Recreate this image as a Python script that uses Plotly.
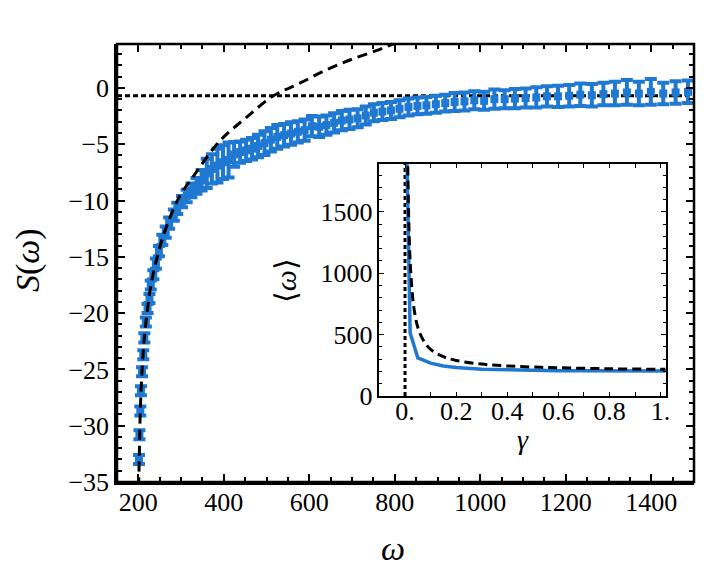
import plotly.graph_objects as go

# main panel: measured S(omega) with error bars
omega = [201.5, 202.5, 204.5, 206, 208.5, 211.5, 214, 217.5, 221.5, 226,
         229, 235, 241, 248, 256, 264, 272, 283, 291, 302,
         313, 324, 336, 348, 360, 372, 385, 398, 411, 424,
         438, 452, 466, 480, 495, 510, 525, 541, 557, 573,
         589, 606, 623, 640, 658, 676, 694, 713, 732, 751,
         771, 791, 811, 832, 853, 874, 896, 918, 940, 963,
         986, 1009, 1033, 1057, 1081, 1106, 1131, 1156, 1182, 1208,
         1234, 1261, 1288, 1315, 1343, 1371, 1399, 1428, 1457, 1486]
s_omega = [-33.0, -30.8, -28.7, -26.9, -25.2, -23.7, -22.2, -20.8, -19.6, -18.7,
           -17.5, -16.6, -15.6, -14.5, -13.5, -12.8, -12.0, -11.3, -10.7, -10.1,
           -9.6, -9.1, -8.7, -8.2, -7.6, -7.2, -6.9, -6.6, -6.4, -5.9,
           -5.7, -5.55, -5.4, -5.15, -4.9, -4.6, -4.35, -4.2, -4.05, -3.9,
           -3.75, -3.4, -3.45, -3.3, -3.1, -2.9, -2.8, -2.7, -2.45, -2.2,
           -2.1, -2.0, -1.85, -1.7, -1.6, -1.55, -1.45, -1.35, -1.25, -1.2,
           -1.1, -1.15, -1.0, -1.0, -0.95, -0.9, -0.85, -0.75, -0.75, -0.7,
           -0.6, -0.65, -0.55, -0.5, -0.4, -0.5, -0.35, -0.5, -0.4, -0.35]
s_err = [0.4, 0.4, 0.4, 0.4, 0.4, 0.4, 0.4, 0.4, 0.4, 0.4,
         0.4, 0.4, 0.45, 0.45, 0.45, 0.5, 0.5, 0.5, 0.5, 0.5,
         0.55, 0.6, 0.7, 0.9, 1.3, 1.3, 1.5, 1.5, 1.55, 1.1,
         0.95, 0.95, 0.95, 1.0, 1.05, 1.05, 1.05, 1.0, 1.0, 0.95,
         0.95, 0.9, 0.9, 0.85, 0.85, 0.85, 0.85, 0.8, 0.8, 0.75,
         0.75, 0.75, 0.75, 0.75, 0.75, 0.75, 0.75, 0.75, 0.8, 0.8,
         0.8, 0.8, 0.85, 0.8, 0.85, 0.85, 0.9, 0.9, 0.95, 0.95,
         1.0, 1.0, 1.0, 1.05, 1.1, 1.05, 1.15, 0.95, 1.0, 1.0]

# main panel: theory curve (dashed) and plateau level (dotted)
omega_theory = [200.5, 202, 204.5, 208.5, 214, 221.5, 229, 241, 256, 272,
                290, 305, 326, 350, 375, 404, 450, 516, 574, 640, 700, 760, 800, 830]
s_theory = [-35.5, -33.0, -28.7, -25.2, -22.2, -19.6, -17.6, -15.5, -13.4, -11.7,
            -10.1, -9.1, -8.0, -6.7, -5.4, -4.2, -2.7, -0.7, 0.35, 1.6, 2.55, 3.35, 3.95, 4.3]
s_plateau = -0.7

# inset: mean omega vs gamma
gamma_sim = [0.006, 0.02, 0.05, 0.1, 0.15, 0.2, 0.3, 0.4, 0.5, 0.6, 0.7, 0.8, 0.9, 1.0, 1.02]
mean_omega_sim = [2100, 515, 310, 268, 245, 232, 218, 212, 208, 206, 205, 204, 203, 203, 203]
gamma_theory = [0.0095, 0.012, 0.015, 0.02, 0.03, 0.04, 0.05, 0.07, 0.1, 0.15,
                0.2, 0.3, 0.4, 0.5, 0.6, 0.8, 1.0, 1.02]
mean_omega_theory = [2100, 1700, 1400, 1100, 800, 650, 560, 460, 380, 320,
                     290, 260, 245, 236, 230, 222, 218, 218]
gamma_zero = 0.0

BLUE = "#1f78d1"
FONT = "Liberation Serif, DejaVu Serif, Times New Roman, serif"

fig = go.Figure()

fig.add_trace(go.Scatter(
    x=[150, 1500], y=[s_plateau, s_plateau], mode="lines",
    line=dict(color="black", width=3, dash="5px,3px"),
    xaxis="x", yaxis="y", showlegend=False))

fig.add_trace(go.Scatter(
    x=omega, y=s_omega, mode="markers",
    marker=dict(color=BLUE, size=8, symbol="square"),
    error_y=dict(type="data", array=s_err, color=BLUE, thickness=4, width=6),
    xaxis="x", yaxis="y", showlegend=False))

fig.add_trace(go.Scatter(
    x=omega_theory, y=s_theory, mode="lines", line_shape="spline",
    line=dict(color="black", width=3, dash="10px,6px"),
    xaxis="x", yaxis="y", showlegend=False))

# inset traces
fig.add_trace(go.Scatter(
    x=[gamma_zero, gamma_zero], y=[0, 1900], mode="lines",
    line=dict(color="black", width=3, dash="4px,3px"),
    xaxis="x2", yaxis="y2", showlegend=False))

fig.add_trace(go.Scatter(
    x=gamma_sim, y=mean_omega_sim, mode="lines",
    line=dict(color=BLUE, width=3.5),
    xaxis="x2", yaxis="y2", showlegend=False))

fig.add_trace(go.Scatter(
    x=gamma_theory, y=mean_omega_theory, mode="lines", line_shape="spline",
    line=dict(color="black", width=3, dash="9px,5px"),
    xaxis="x2", yaxis="y2", showlegend=False))

tick_font = dict(family=FONT, size=26, color="black")
axis_common = dict(showgrid=False, zeroline=False, showline=True, linecolor="black",
                   ticks="inside", tickcolor="black", tickfont=tick_font)

main_x = dict(range=[150, 1500], tickvals=[200, 400, 600, 800, 1000, 1200, 1400],
              ticklen=8, tickwidth=2,
              minor=dict(dtick=50, tick0=0, ticklen=5, tickwidth=2, ticks="inside",
                         tickcolor="black"))
main_y = dict(range=[-35, 3.9], tickvals=[-35, -30, -25, -20, -15, -10, -5, 0],
              ticklen=8, tickwidth=2,
              minor=dict(dtick=1, tick0=0, ticklen=5, tickwidth=2, ticks="inside",
                         tickcolor="black"))

# the page body adds an 8px offset, so the figure is 8px smaller
fig.update_layout(
    width=698, height=563,
    margin=dict(l=109, r=7, t=36, b=89),
    font=dict(family=FONT, color="black"),
    plot_bgcolor="white", paper_bgcolor="white",
    xaxis=dict(axis_common, **main_x, domain=[0, 1], linewidth=2.5,
               ticklabelstandoff=-5),
    yaxis=dict(axis_common, **main_y, domain=[0, 1], linewidth=2.5),
    xaxis3=dict(axis_common, **main_x, overlaying="x", side="top", matches="x",
                showticklabels=False, showline=False),
    yaxis3=dict(axis_common, **main_y, overlaying="y", side="right", matches="y",
                showticklabels=False, showline=False),
    xaxis2=dict(axis_common, domain=[0.4549, 0.9509], range=[-0.1, 1.02],
                anchor="y2", linewidth=1.5, mirror="ticks",
                tickvals=[0, 0.2, 0.4, 0.6, 0.8, 1.0],
                ticktext=["0.", "0.2", "0.4", "0.6", "0.8", "1."],
                ticklen=4, tickwidth=1, ticklabelstandoff=-9,
                minor=dict(dtick=0.1, tick0=0, ticklen=4, tickwidth=1, ticks="inside",
                           tickcolor="black")),
    yaxis2=dict(axis_common, domain=[0.1963, 0.726], range=[0, 1890],
                anchor="x2", linewidth=1.5, mirror="ticks",
                tickvals=[0, 500, 1000, 1500],
                ticklen=5, tickwidth=1,
                minor=dict(dtick=100, tick0=0, ticklen=3, tickwidth=1, ticks="inside",
                           tickcolor="black")),
)

# dummy trace so the mirrored top/right axes draw their ticks
fig.add_trace(go.Scatter(x=[None], y=[None], xaxis="x3", yaxis="y3",
                         showlegend=False, hoverinfo="skip"))

fig.add_shape(type="rect", xref="x domain", yref="y domain", x0=0, x1=1, y0=0, y1=1,
              line=dict(color="black", width=2.5), layer="above")

title_font = dict(family=FONT, size=34, color="black")
label_kw = dict(xref="paper", yref="paper", showarrow=False,
                xanchor="center", yanchor="middle")
fig.add_annotation(text="<i>S</i>(<i>ω</i>)", x=-0.154, y=0.507, textangle=-90,
                   font=title_font, **label_kw)
fig.add_annotation(text="<i>ω</i>", x=0.4777, y=-0.151, font=title_font, **label_kw)
fig.add_annotation(text="⟨<i>ω</i>⟩", x=0.292, y=0.46, textangle=-90,
                   font=dict(family=FONT, size=30, color="black"), **label_kw)
fig.add_annotation(text="<i>γ</i>", x=0.704, y=0.098,
                   font=dict(family=FONT, size=28, color="black"), **label_kw)

fig.write_html("out.html")
